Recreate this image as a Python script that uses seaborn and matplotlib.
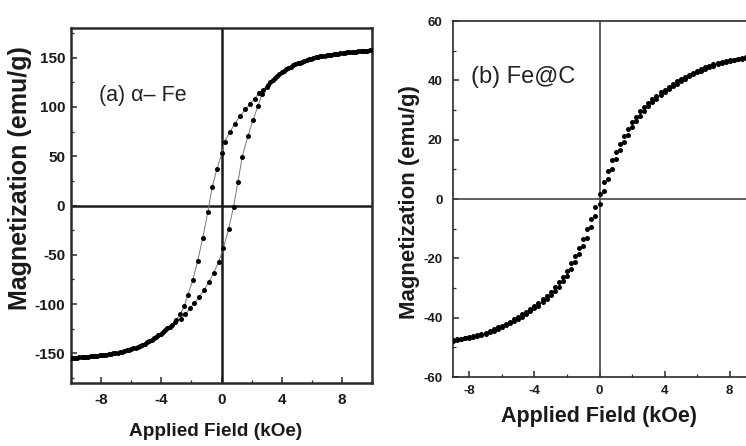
import numpy as np
import pandas as pd
import matplotlib
matplotlib.use("Agg")
import matplotlib.pyplot as plt
import seaborn as sns
from matplotlib.ticker import MultipleLocator

# ---------------- data: (a) alpha-Fe hysteresis loop ----------------
a_desc_H = [10.0, 9.7, 9.4, 9.1, 8.8, 8.5, 8.2, 7.9, 7.6, 7.3, 7.0, 6.7, 6.4, 6.1, 5.8, 5.5,
            5.2, 4.9, 4.6, 4.3, 4.0, 3.7, 3.4, 3.09, 2.76, 2.49, 2.2, 1.91, 1.58, 1.24, 0.87,
            0.58, 0.2, 0.04, -0.31, -0.62, -0.91, -1.24, -1.58, -1.91, -2.24, -2.47, -2.73,
            -3.02, -3.3, -3.6, -3.9, -4.2, -4.5, -4.8, -5.1, -5.4, -5.7, -6.0, -6.3, -6.6,
            -6.9, -7.2, -7.5, -7.8, -8.1, -8.4, -8.7, -9.0, -9.3, -9.6, -9.9]
a_desc_M = [157.3, 157.0, 156.7, 156.3, 155.9, 155.4, 154.9, 154.3, 153.7, 153.0, 152.3,
            151.5, 150.6, 149.5, 148.3, 146.8, 145.0, 143.0, 140.8, 138.0, 135.0, 131.5,
            127.0, 122.0, 117.5, 114.0, 108.4, 103.0, 97.4, 90.6, 83.0, 75.0, 64.7, 53.7,
            37.0, 18.4, -6.7, -32.5, -56.0, -76.0, -90.6, -102.0, -110.0, -116.5, -121.0,
            -124.5, -128.0, -131.5, -134.5, -137.5, -140.0, -142.2, -144.3, -145.8, -147.0,
            -148.2, -149.2, -150.0, -150.8, -151.5, -152.1, -152.7, -153.1, -153.5, -154.0,
            -154.3, -154.6]
a_asc_H = [-10.0, -9.75, -9.45, -9.15, -8.85, -8.55, -8.25, -7.95, -7.65, -7.35, -7.05,
           -6.75, -6.45, -6.15, -5.85, -5.55, -5.25, -4.95, -4.65, -4.35, -4.05, -3.75,
           -3.45, -3.1, -2.69, -2.4, -2.09, -1.8, -1.47, -1.18, -0.84, -0.53, -0.18, 0.13,
           0.47, 0.8, 1.09, 1.38, 1.76, 2.09, 2.42, 2.71, 3.0, 3.25, 3.55, 3.85, 4.15, 4.45,
           4.75, 5.05, 5.35, 5.65, 5.95, 6.25, 6.55, 6.85, 7.15, 7.45, 7.75, 8.05, 8.35,
           8.65, 8.95, 9.25, 9.55, 9.85]
a_asc_M = [-155.0, -154.5, -154.1, -153.8, -153.3, -152.9, -152.4, -151.8, -151.1, -150.4,
           -149.6, -148.7, -147.6, -146.4, -145.0, -143.3, -141.1, -138.8, -136.0, -133.0,
           -130.0, -126.5, -123.0, -118.5, -114.8, -110.5, -104.0, -98.7, -93.0, -86.0,
           -78.0, -68.5, -57.0, -42.6, -24.2, -1.3, 23.9, 49.6, 70.5, 86.6, 100.7, 113.5,
           120.5, 125.5, 129.5, 133.5, 136.8, 139.8, 142.2, 144.2, 146.0, 147.6, 149.0,
           150.1, 151.1, 152.0, 152.7, 153.4, 154.0, 154.6, 155.2, 155.7, 156.1, 156.5,
           156.9, 157.2]

# ---------------- data: (b) Fe@C ----------------
b_H = [-9.0, -8.75, -8.5, -8.25, -8.0, -7.75, -7.5, -7.25, -7.0, -6.75, -6.5, -6.25, -6.0,
       -5.75, -5.5, -5.25, -5.0, -4.75, -4.5, -4.25, -4.0, -3.75, -3.5, -3.25, -3.0, -2.75,
       -2.5, -2.25, -2.0, -1.75, -1.5, -1.25, -1.0, -0.75, -0.5, -0.25, 0.0, 0.25, 0.5,
       0.75, 1.0, 1.25, 1.5, 1.75, 2.0, 2.25, 2.5, 2.75, 3.0, 3.25, 3.5, 3.75, 4.0, 4.25,
       4.5, 4.75, 5.0, 5.25, 5.5, 5.75, 6.0, 6.25, 6.5, 6.75, 7.0, 7.25, 7.5, 7.75, 8.0,
       8.25, 8.5, 8.75, 9.0]
b_desc_M = [-47.5, -47.3, -47.1, -46.8, -46.5, -46.1, -45.8, -45.4, -45.0, -44.5, -43.9,
            -43.3, -42.7, -42.0, -41.3, -40.6, -39.8, -38.9, -38.0, -37.1, -36.1, -34.9,
            -33.8, -32.7, -31.3, -29.8, -28.1, -26.2, -24.2, -21.7, -19.2, -16.5, -13.6,
            -10.2, -6.6, -2.6, 1.7, 5.8, 9.6, 13.0, 16.0, 18.7, 21.2, 23.5, 25.8, 27.8, 29.5,
            31.0, 32.5, 33.7, 34.8, 35.9, 36.9, 37.9, 38.8, 39.7, 40.4, 41.2, 41.9, 42.6,
            43.3, 43.9, 44.5, 44.9, 45.4, 45.8, 46.2, 46.5, 46.7, 47.0, 47.3, 47.5, 47.7]
b_asc_M = [-47.7, -47.5, -47.3, -47.0, -46.7, -46.5, -46.2, -45.8, -45.4, -44.9, -44.5,
           -43.9, -43.3, -42.6, -41.9, -41.2, -40.4, -39.7, -38.8, -37.9, -36.9, -35.9,
           -34.8, -33.7, -32.5, -31.0, -29.5, -27.8, -25.8, -23.5, -21.2, -18.7, -16.0,
           -13.0, -9.6, -5.8, -1.7, 2.6, 6.6, 10.2, 13.6, 16.5, 19.2, 21.7, 24.2, 26.2,
           28.1, 29.8, 31.3, 32.7, 33.8, 34.9, 36.1, 37.1, 38.0, 38.9, 39.8, 40.6, 41.3,
           42.0, 42.7, 43.3, 43.9, 44.5, 45.0, 45.4, 45.8, 46.1, 46.5, 46.8, 47.1, 47.3, 47.5]

x_ticks_a = [-8, -4, 0, 4, 8]
y_ticks_a = [-150, -100, -50, 0, 50, 100, 150]
x_ticks_b = [-8, -4, 0, 4, 8]
y_ticks_b = [-60, -40, -20, 0, 20, 40, 60]

# ---------------- figure ----------------
sns.set_style("ticks")
plt.rcParams["font.family"] = ["Liberation Sans", "DejaVu Sans"]
plt.rcParams["xtick.direction"] = "in"
plt.rcParams["ytick.direction"] = "in"
plt.rcParams["axes.unicode_minus"] = False

W, H = 746, 446
fig = plt.figure(figsize=(W / 100, H / 100), dpi=100)
axA = fig.add_axes([71 / W, 1 - 383 / H, (372 - 71) / W, (383 - 28) / H])
axB = fig.add_axes([453 / W, 1 - 377 / H, (746 - 453) / W, (377 - 21) / H])

dfA = pd.concat([
    pd.DataFrame({"H": a_desc_H, "M": a_desc_M, "branch": "desc"}),
    pd.DataFrame({"H": a_asc_H, "M": a_asc_M, "branch": "asc"}),
], ignore_index=True)
dfB = pd.concat([
    pd.DataFrame({"H": b_H, "M": b_desc_M, "branch": "desc"}),
    pd.DataFrame({"H": b_H, "M": b_asc_M, "branch": "asc"}),
], ignore_index=True)

# panel a
axA.axhline(0, color="#1a1a1a", lw=1.8, zorder=1)
axA.axvline(0, color="#1a1a1a", lw=1.8, zorder=1)
sns.lineplot(data=dfA, x="H", y="M", units="branch", estimator=None, sort=False,
             color="#777777", lw=0.7, ax=axA, zorder=2)
sns.scatterplot(data=dfA, x="H", y="M", color="black", s=13, linewidth=0,
                ax=axA, zorder=3)
axA.set_xlim(-10, 10)
axA.set_ylim(-180, 180)
axA.set_xticks(x_ticks_a)
axA.set_yticks(y_ticks_a)
axA.xaxis.set_minor_locator(MultipleLocator(2))
axA.yaxis.set_minor_locator(MultipleLocator(25))
axA.text(-8.15, 112, "(a) α– Fe", fontsize=15.5, va="center", ha="left", color="#222222")

# panel b
axB.axhline(0, color="#444444", lw=1.2, zorder=1)
axB.axvline(0, color="#444444", lw=1.2, zorder=1)
sns.scatterplot(data=dfB, x="H", y="M", color="black", s=13, linewidth=0,
                ax=axB, zorder=3)
axB.set_xlim(-9, 9)
axB.set_ylim(-60, 60)
axB.set_xticks(x_ticks_b)
axB.set_yticks(y_ticks_b)
axB.xaxis.set_minor_locator(MultipleLocator(2))
axB.yaxis.set_minor_locator(MultipleLocator(10))
axB.spines["right"].set_visible(False)
axB.text(-7.9, 41.2, "(b) Fe@C", fontsize=17, va="center", ha="left", color="#222222")

settings = (
    (axA, 1.8, 11, 7.0, 4.3, 13.7, 18, (0.479, -0.138), (-0.169, 0.577)),
    (axB, 1.2, 9.5, 6.0, 7.5, 15.5, 16, (0.498, -0.112), (-0.147, 0.492)),
)
for ax, lw, fs_tick, xpad, ypad, fs_xl, fs_yl, xl_pos, yl_pos in settings:
    for sp in ax.spines.values():
        sp.set_linewidth(lw)
        sp.set_color("#2a2a2a")
    ax.tick_params(which="major", length=4.5, width=1.1, color="#2a2a2a",
                   labelsize=fs_tick, top=False, right=False)
    ax.tick_params(which="minor", length=2.5, width=0.9, color="#2a2a2a",
                   top=False, right=False)
    ax.tick_params(axis="x", pad=xpad)
    ax.tick_params(axis="y", pad=ypad)
    for lab in ax.get_xticklabels() + ax.get_yticklabels():
        lab.set_fontweight("bold")
        lab.set_color("#1a1a1a")
    ax.set_xlabel("Applied Field (kOe)", fontsize=fs_xl, fontweight="bold", color="#1a1a1a")
    ax.set_ylabel("Magnetization (emu/g)", fontsize=fs_yl, fontweight="bold", color="#1a1a1a")
    ax.xaxis.set_label_coords(*xl_pos)
    ax.xaxis.label.set_va("center")
    ax.yaxis.set_label_coords(*yl_pos)
    ax.yaxis.label.set_va("center")

fig.savefig("out.png", dpi=100)
